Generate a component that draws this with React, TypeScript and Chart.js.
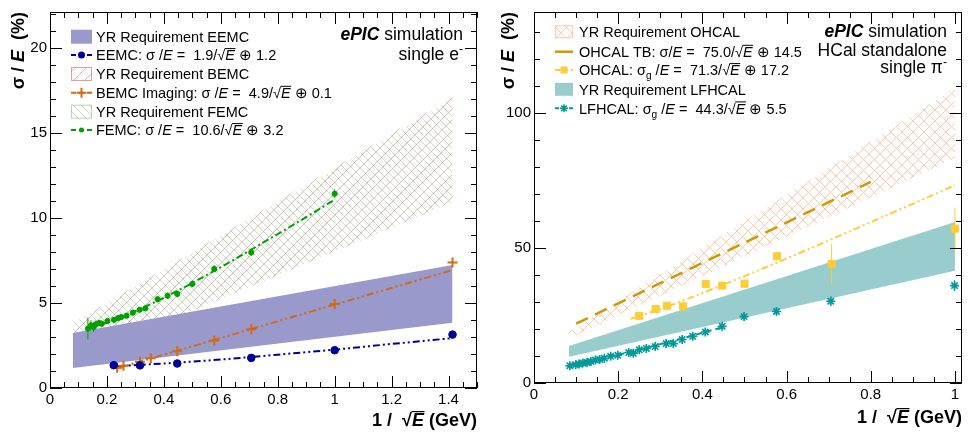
import React, { useEffect, useRef } from 'react';
import { Chart, registerables } from 'chart.js';
Chart.register(...registerables);

const FONT = '"Liberation Sans", Arial, Helvetica, sans-serif';

// ---------------- Left panel: single e- ----------------
const leftXTicks = [0, 0.2, 0.4, 0.6, 0.8, 1, 1.2, 1.4];
const leftYTicks = [0, 5, 10, 15, 20];

const eemcBandX = [0.08, 1.414];
const eemcBandLow = [1.17, 3.84];
const eemcBandHigh = [3.23, 7.23];

const bemcBandX = [0.08, 1.414];
const bemcBandLow = [1.6, 10.9];
const bemcBandHigh = [3.8, 17.1];

const femcBandX = [0.08, 1.414];
const femcBandLow = [1.6, 10.9];
const femcBandHigh = [3.8, 17.0];

const eemcX = [0.224, 0.316, 0.447, 0.707, 1.0, 1.414];
const eemcY = [1.34, 1.33, 1.44, 1.77, 2.22, 3.14];
const eemcFitX = [0.224, 0.4, 0.6, 0.8, 1.0, 1.2, 1.414];
const eemcFitY = [1.27, 1.44, 1.67, 1.96, 2.25, 2.59, 2.93];

const bemcX = [0.236, 0.258, 0.316, 0.354, 0.447, 0.577, 0.707, 1.0, 1.414];
const bemcY = [1.19, 1.31, 1.54, 1.75, 2.16, 2.79, 3.45, 4.93, 7.37];
const bemcFitX = [0.236, 0.4, 0.6, 0.8, 1.0, 1.2, 1.414];
const bemcFitY = [1.16, 1.96, 2.94, 3.92, 4.9, 5.88, 6.93];

const femcX = [0.133, 0.144, 0.153, 0.161, 0.173, 0.182, 0.202, 0.225, 0.239, 0.25, 0.269, 0.291, 0.315, 0.335, 0.378, 0.413, 0.447, 0.5, 0.577, 0.707, 1.0];
const femcY = [3.49, 3.68, 3.58, 3.74, 3.82, 3.78, 3.94, 4.01, 4.11, 4.17, 4.25, 4.43, 4.6, 4.68, 5.22, 5.42, 5.53, 6.12, 7.0, 7.97, 11.42];
const femcErr = [0.64, 0.3, 0.28, 0.22, 0.18, 0.18, 0.15, 0.15, 0.15, 0.15, 0.15, 0.15, 0.15, 0.15, 0.18, 0.18, 0.2, 0.2, 0.2, 0.22, 0.25];
const femcFitX = [0.133, 0.2, 0.3, 0.4, 0.5, 0.6, 0.7, 0.8, 0.9, 1.0];
const femcFitY = [3.49, 3.85, 4.51, 5.3, 6.17, 7.1, 8.07, 9.05, 10.04, 11.07];

// ---------------- Right panel: single pi- ----------------
const rightXTicks = [0, 0.2, 0.4, 0.6, 0.8, 1];
const rightYTicks = [0, 50, 100];

const ohcalBandX = [0.083, 1.0];
const ohcalBandLow = [16.5, 83.4];
const ohcalBandHigh = [19.0, 109.2];

const ohcalTbX = [0.1, 0.8];
const ohcalTbY = [22.0, 74.5];

const ohcalX = [0.25, 0.289, 0.316, 0.354, 0.408, 0.447, 0.5, 0.577, 0.707, 1.0];
const ohcalY = [24.9, 27.4, 28.6, 28.4, 36.7, 36.1, 36.8, 47.0, 44.1, 57.2];
const ohcalErr = [0.8, 0.8, 0.8, 0.8, 1.0, 1.0, 1.0, 1.5, 7.5, 7.8];
const ohcalFitX = [0.23, 0.3, 0.4, 0.5, 0.6, 0.7, 0.8, 0.9, 1.0];
const ohcalFitY = [23.8, 27.3, 33.3, 39.6, 46.1, 52.8, 59.6, 66.4, 73.3];

const lfhcalBandX = [0.083, 1.0];
const lfhcalBandLow = [9.7, 41.6];
const lfhcalBandHigh = [13.7, 59.7];

const lfhcalX = [0.085, 0.099, 0.107, 0.116, 0.126, 0.135, 0.146, 0.156, 0.167, 0.182, 0.199, 0.225, 0.236, 0.25, 0.267, 0.288, 0.314, 0.331, 0.352, 0.377, 0.407, 0.447, 0.499, 0.576, 0.705, 0.999];
const lfhcalY = [6.4, 6.8, 7.0, 7.4, 7.6, 8.0, 8.5, 8.7, 9.2, 9.9, 10.3, 11.3, 11.0, 12.3, 12.8, 13.5, 14.6, 14.6, 16.1, 17.3, 18.9, 21.0, 24.6, 26.5, 30.3, 36.1];
const lfhcalErr = [1.5, 1.5, 1.5, 1.4, 1.4, 1.4, 1.4, 1.4, 1.4, 1.4, 1.4, 1.4, 1.4, 1.4, 1.4, 1.4, 1.4, 1.4, 1.4, 1.4, 1.5, 1.5, 1.6, 1.6, 1.8, 2.0];
const lfhcalFitX = [0.085, 0.15, 0.2, 0.25, 0.3, 0.35, 0.4, 0.447];
const lfhcalFitY = [6.6, 8.6, 10.4, 12.4, 14.4, 16.4, 18.6, 20.6];

// ---------------- colours ----------------
const C_EEMC = '#000099';
const C_EEMC_BAND = 'rgb(153,153,204)';
const C_BEMC = 'rgb(210,105,20)';
const C_BEMC_HATCH = 'rgba(210,120,120,0.7)';
const C_FEMC = 'rgb(0,160,0)';
const C_FEMC_HATCH = 'rgba(120,195,120,0.6)';
const C_OHCAL_HATCH = 'rgba(255,195,160,0.9)';
const C_OHCAL_TB = 'rgb(204,153,0)';
const C_OHCAL = 'rgb(255,204,51)';
const C_LFHCAL = 'rgb(0,153,153)';
const C_LFHCAL_BAND = 'rgb(153,204,204)';

type Seg = { t: string; f?: string; sub?: boolean; sup?: boolean; over?: boolean };

function pts(xs: number[], ys: number[]) {
  return xs.map((x, i) => ({ x, y: ys[i] }));
}

function makeHatch(color: string, dirs: string[], s: number, lw: number) {
  const c = document.createElement('canvas');
  c.width = s;
  c.height = s;
  const g = c.getContext('2d')!;
  g.strokeStyle = color;
  g.lineWidth = lw;
  g.beginPath();
  for (const d of dirs) {
    for (const o of [-s, 0, s]) {
      if (d === '/') {
        g.moveTo(o, s);
        g.lineTo(o + s, 0);
      } else {
        g.moveTo(o, 0);
        g.lineTo(o + s, s);
      }
    }
  }
  g.stroke();
  return g.createPattern(c, 'repeat')!;
}

function segFont(s: Seg, size: number, bold: boolean) {
  const sz = s.sub || s.sup ? size * 0.7 : size;
  const it = s.f && s.f.includes('i') ? 'italic ' : '';
  const b = bold || (s.f && s.f.includes('b')) ? 'bold ' : '';
  return `${it}${b}${sz}px ${FONT}`;
}

function drawRich(ctx: CanvasRenderingContext2D, segs: Seg[], x: number, y: number, size: number, align: string, bold = false) {
  ctx.textAlign = 'left';
  ctx.textBaseline = 'alphabetic';
  const parts = segs.map((s) => {
    const font = segFont(s, size, bold);
    ctx.font = font;
    return { s, font, w: ctx.measureText(s.t).width };
  });
  const total = parts.reduce((a, p) => a + p.w, 0);
  let cx = align === 'right' ? x - total : align === 'center' ? x - total / 2 : x;
  for (const p of parts) {
    ctx.font = p.font;
    const dy = p.s.sub ? size * 0.28 : p.s.sup ? -size * 0.42 : 0;
    ctx.fillText(p.s.t, cx, y + dy);
    if (p.s.over) {
      ctx.save();
      ctx.strokeStyle = ctx.fillStyle as string;
      ctx.lineWidth = Math.max(1, size / 15);
      ctx.beginPath();
      ctx.moveTo(cx - 0.5, y - size * 0.8);
      ctx.lineTo(cx + p.w + 0.5, y - size * 0.8);
      ctx.stroke();
      ctx.restore();
    }
    cx += p.w;
  }
}

const sqrtE: Seg[] = [{ t: '√' }, { t: 'E', f: 'i', over: true }];

function drawMarker(ctx: CanvasRenderingContext2D, kind: string, x: number, y: number, color: string) {
  ctx.save();
  ctx.fillStyle = color;
  ctx.strokeStyle = color;
  ctx.setLineDash([]);
  if (kind === 'circle' || kind === 'dot') {
    ctx.beginPath();
    ctx.arc(x, y, kind === 'circle' ? 3.5 : 2.5, 0, Math.PI * 2);
    ctx.fill();
  } else if (kind === 'cross') {
    ctx.lineWidth = 2;
    ctx.beginPath();
    ctx.moveTo(x - 5, y);
    ctx.lineTo(x + 5, y);
    ctx.moveTo(x, y - 5);
    ctx.lineTo(x, y + 5);
    ctx.stroke();
  } else if (kind === 'square') {
    ctx.fillRect(x - 3.5, y - 3.5, 7, 7);
  } else if (kind === 'star') {
    ctx.lineWidth = 1.5;
    ctx.beginPath();
    for (let k = 0; k < 4; k++) {
      const a = (k * Math.PI) / 4;
      ctx.moveTo(x - 4 * Math.cos(a), y - 4 * Math.sin(a));
      ctx.lineTo(x + 4 * Math.cos(a), y + 4 * Math.sin(a));
    }
    ctx.stroke();
  }
  ctx.restore();
}

interface LegendEntry {
  kind: 'fill' | 'line';
  fill?: string | CanvasPattern;
  border?: string;
  color?: string;
  dash?: number[];
  lw?: number;
  marker?: string;
  segs: Seg[];
}

interface PanelCfg {
  xMax: number;
  yMax: number;
  xTicks: number[];
  yTicks: number[];
  xMinor: number;
  yMinor: number;
  xMajor: number;
  yMajor: number;
  bottomPad: number;
  rightPad: number;
  yTitleX: number;
  xTitleY: number;
  headerX: number;
  header: { segs: Seg[]; y: number }[];
  legend: LegendEntry[];
  legendRows: number[];
  legX0: number;
  legX1: number;
  legH: number;
  legTextX: number;
}

function band(xs: number[], lo: number[], hi: number[], fill: any, order: number) {
  return [
    { data: pts(xs, lo), borderColor: 'rgba(0,0,0,0)', borderWidth: 0, pointRadius: 0, fill: false, order },
    { data: pts(xs, hi), borderColor: 'rgba(0,0,0,0)', borderWidth: 0, pointRadius: 0, fill: '-1', backgroundColor: fill, order },
  ];
}

function fitLine(xs: number[], ys: number[], color: string, dash: number[], lw: number) {
  return { data: pts(xs, ys), borderColor: color, borderWidth: lw, borderDash: dash, pointRadius: 0, fill: false, tension: 0, order: 3 };
}

function points(xs: number[], ys: number[], color: string, style: string, r: number, bw: number, err?: number[]) {
  return {
    data: pts(xs, ys),
    showLine: false,
    pointStyle: style,
    pointRadius: r,
    pointBackgroundColor: color,
    pointBorderColor: color,
    pointBorderWidth: bw,
    borderColor: color,
    backgroundColor: color,
    fill: false,
    order: 1,
    errY: err,
  };
}

function decorPlugin(cfg: PanelCfg) {
  return {
    id: 'decor',
    afterDatasetsDraw(chart: any) {
      const ctx: CanvasRenderingContext2D = chart.ctx;
      const ys = chart.scales.y;
      chart.data.datasets.forEach((ds: any, i: number) => {
        if (!ds.errY) return;
        const meta = chart.getDatasetMeta(i);
        ctx.save();
        ctx.strokeStyle = ds.borderColor;
        ctx.lineWidth = 1;
        ctx.beginPath();
        meta.data.forEach((el: any, j: number) => {
          const d = ds.data[j];
          const e = ds.errY[j];
          ctx.moveTo(el.x, ys.getPixelForValue(d.y - e));
          ctx.lineTo(el.x, ys.getPixelForValue(d.y + e));
        });
        ctx.stroke();
        ctx.restore();
      });
    },
    afterDraw(chart: any) {
      const ctx: CanvasRenderingContext2D = chart.ctx;
      const a = chart.chartArea;
      const xs = chart.scales.x;
      const ys = chart.scales.y;
      ctx.save();
      // frame
      ctx.strokeStyle = '#000';
      ctx.lineWidth = 1;
      ctx.strokeRect(Math.round(a.left) + 0.5, Math.round(a.top) + 0.5, Math.round(a.right - a.left) - 1, Math.round(a.bottom - a.top) - 1);
      // ticks
      ctx.beginPath();
      for (let k = 0; k * cfg.xMinor <= cfg.xMax + 1e-9; k++) {
        const v = k * cfg.xMinor;
        const major = Math.abs(v / cfg.xMajor - Math.round(v / cfg.xMajor)) < 1e-6;
        const L = major ? 12 : 6;
        const px = Math.round(xs.getPixelForValue(v)) + 0.5;
        ctx.moveTo(px, a.bottom);
        ctx.lineTo(px, a.bottom - L);
        ctx.moveTo(px, a.top);
        ctx.lineTo(px, a.top + L);
      }
      for (let k = 0; k * cfg.yMinor <= cfg.yMax + 1e-9; k++) {
        const v = k * cfg.yMinor;
        const major = Math.abs(v / cfg.yMajor - Math.round(v / cfg.yMajor)) < 1e-6;
        const L = major ? 12 : 6;
        const py = Math.round(ys.getPixelForValue(v)) + 0.5;
        ctx.moveTo(a.left, py);
        ctx.lineTo(a.left + L, py);
        ctx.moveTo(a.right, py);
        ctx.lineTo(a.right - L, py);
      }
      ctx.stroke();

      ctx.fillStyle = '#000';
      // axis titles
      drawRich(ctx, [{ t: '1 /  ' }, ...sqrtE, { t: ' (GeV)' }], a.right, cfg.xTitleY, 18, 'right', true);
      ctx.save();
      ctx.translate(cfg.yTitleX, a.top);
      ctx.rotate(-Math.PI / 2);
      drawRich(ctx, [{ t: 'σ / ' }, { t: 'E', f: 'i' }, { t: '  (%)' }], 0, 0, 18, 'right', true);
      ctx.restore();

      // header
      for (const h of cfg.header) drawRich(ctx, h.segs, cfg.headerX, h.y, 17.5, 'right');

      // legend
      cfg.legend.forEach((e, i) => {
        const yc = cfg.legendRows[i];
        if (e.kind === 'fill') {
          ctx.save();
          ctx.fillStyle = e.fill as any;
          ctx.fillRect(cfg.legX0, yc - cfg.legH / 2, cfg.legX1 - cfg.legX0, cfg.legH);
          if (e.border) {
            ctx.strokeStyle = e.border;
            ctx.lineWidth = 1;
            ctx.strokeRect(cfg.legX0 + 0.5, yc - cfg.legH / 2 + 0.5, cfg.legX1 - cfg.legX0 - 1, cfg.legH - 1);
          }
          ctx.restore();
        } else {
          ctx.save();
          ctx.strokeStyle = e.color!;
          ctx.lineWidth = e.lw || 2;
          ctx.setLineDash(e.dash || []);
          ctx.beginPath();
          ctx.moveTo(cfg.legX0, yc);
          ctx.lineTo(cfg.legX1, yc);
          ctx.stroke();
          ctx.restore();
          if (e.marker) drawMarker(ctx, e.marker, (cfg.legX0 + cfg.legX1) / 2, yc, e.color!);
        }
        ctx.fillStyle = '#000';
        drawRich(ctx, e.segs, cfg.legTextX, yc + 5.2, 14.5, 'left');
      });
      ctx.restore();
    },
  };
}

function buildChart(canvas: HTMLCanvasElement, cfg: PanelCfg, datasets: any[]) {
  const tickCb = (v: any) => String(+Number(v).toFixed(2));
  return new Chart(canvas, {
    type: 'line',
    data: { datasets },
    options: {
      animation: false,
      responsive: false,
      events: [],
      layout: { padding: { top: 10, right: cfg.rightPad, left: 0, bottom: 0 } },
      plugins: { legend: { display: false }, tooltip: { enabled: false } },
      scales: {
        x: {
          type: 'linear',
          min: 0,
          max: cfg.xMax,
          grid: { display: false, drawTicks: false },
          border: { display: false },
          ticks: { autoSkip: false, maxRotation: 0, padding: 3, color: '#000', font: { family: FONT, size: 15 }, callback: tickCb },
          afterBuildTicks: (s: any) => {
            s.ticks = cfg.xTicks.map((value) => ({ value }));
          },
          afterFit: (s: any) => {
            s.height = cfg.bottomPad;
          },
        },
        y: {
          type: 'linear',
          min: 0,
          max: cfg.yMax,
          grid: { display: false, drawTicks: false },
          border: { display: false },
          ticks: { autoSkip: false, padding: 3, color: '#000', font: { family: FONT, size: 15 }, callback: tickCb },
          afterBuildTicks: (s: any) => {
            s.ticks = cfg.yTicks.map((value) => ({ value }));
          },
          afterFit: (s: any) => {
            s.width = 50;
          },
        },
      },
    } as any,
    plugins: [decorPlugin(cfg)],
  });
}

export default function App() {
  const leftRef = useRef<HTMLCanvasElement>(null);
  const rightRef = useRef<HTMLCanvasElement>(null);

  useEffect(() => {
    const bemcHatch = makeHatch(C_BEMC_HATCH, ['/'], 11, 0.8);
    const femcHatch = makeHatch(C_FEMC_HATCH, ['\\'], 8, 0.8);
    const ohcalHatch = makeHatch(C_OHCAL_HATCH, ['/', '\\'], 11, 1);

    const dashDotDot = [7, 3, 2, 3, 2, 3];
    const dashDot = [7, 3, 2, 3];

    const leftCfg: PanelCfg = {
      xMax: 1.5,
      yMax: 22.1,
      xTicks: leftXTicks,
      yTicks: leftYTicks,
      xMinor: 0.05,
      yMinor: 1,
      xMajor: 0.2,
      yMajor: 5,
      bottomPad: 47,
      rightPad: 2,
      yTitleX: 24,
      xTitleY: 426,
      headerX: 463,
      header: [
        { segs: [{ t: 'ePIC', f: 'bi' }, { t: ' simulation' }], y: 40 },
        { segs: [{ t: 'single e' }, { t: '-', sup: true }], y: 60 },
      ],
      legendRows: [36.7, 55, 74, 92.7, 111.7, 130],
      legX0: 71,
      legX1: 92,
      legH: 14,
      legTextX: 96,
      legend: [
        { kind: 'fill', fill: C_EEMC_BAND, segs: [{ t: 'YR Requirement EEMC' }] },
        { kind: 'line', color: C_EEMC, dash: [5, 3], marker: 'circle', segs: [{ t: 'EEMC: σ /' }, { t: 'E', f: 'i' }, { t: ' =  1.9/' }, ...sqrtE, { t: ' ⊕ 1.2' }] },
        { kind: 'fill', fill: bemcHatch, border: C_BEMC_HATCH, segs: [{ t: 'YR Requirement BEMC' }] },
        { kind: 'line', color: C_BEMC, dash: [5, 3], marker: 'cross', segs: [{ t: 'BEMC Imaging: σ /' }, { t: 'E', f: 'i' }, { t: ' =  4.9/' }, ...sqrtE, { t: ' ⊕ 0.1' }] },
        { kind: 'fill', fill: femcHatch, border: C_FEMC_HATCH, segs: [{ t: 'YR Requirement FEMC' }] },
        { kind: 'line', color: C_FEMC, dash: [5, 3], marker: 'dot', segs: [{ t: 'FEMC: σ /' }, { t: 'E', f: 'i' }, { t: ' =  10.6/' }, ...sqrtE, { t: ' ⊕ 3.2' }] },
      ],
    };

    const leftDatasets = [
      ...band(bemcBandX, bemcBandLow, bemcBandHigh, bemcHatch, 10),
      ...band(femcBandX, femcBandLow, femcBandHigh, femcHatch, 10),
      ...band(eemcBandX, eemcBandLow, eemcBandHigh, C_EEMC_BAND, 8),
      fitLine(eemcFitX, eemcFitY, C_EEMC, dashDotDot, 2),
      fitLine(bemcFitX, bemcFitY, C_BEMC, dashDotDot, 2),
      fitLine(femcFitX, femcFitY, C_FEMC, dashDot, 2),
      points(eemcX, eemcY, C_EEMC, 'circle', 3.8, 1),
      points(bemcX, bemcY, C_BEMC, 'cross', 5, 2),
      points(femcX, femcY, C_FEMC, 'circle', 2.6, 1, femcErr),
    ];

    const rightCfg: PanelCfg = {
      xMax: 1.0165,
      yMax: 137.5,
      xTicks: rightXTicks,
      yTicks: rightYTicks,
      xMinor: 0.05,
      yMinor: 10,
      xMajor: 0.2,
      yMajor: 50,
      bottomPad: 52,
      rightPad: 3,
      yTitleX: 30,
      xTitleY: 423,
      headerX: 463,
      header: [
        { segs: [{ t: 'ePIC', f: 'bi' }, { t: ' simulation' }], y: 37 },
        { segs: [{ t: 'HCal standalone' }], y: 55.5 },
        { segs: [{ t: 'single π' }, { t: '-', sup: true }], y: 73 },
      ],
      legendRows: [31.7, 51.7, 70, 89.3, 108.3],
      legX0: 71,
      legX1: 89,
      legH: 13,
      legTextX: 95,
      legend: [
        { kind: 'fill', fill: ohcalHatch, border: C_OHCAL_HATCH, segs: [{ t: 'YR Requirement OHCAL' }] },
        { kind: 'line', color: C_OHCAL_TB, lw: 2.5, segs: [{ t: 'OHCAL TB: σ/' }, { t: 'E', f: 'i' }, { t: ' =  75.0/' }, ...sqrtE, { t: ' ⊕ 14.5' }] },
        { kind: 'line', color: C_OHCAL, dash: [5, 3], marker: 'square', segs: [{ t: 'OHCAL: σ' }, { t: 'g', sub: true }, { t: ' /' }, { t: 'E', f: 'i' }, { t: ' =  71.3/' }, ...sqrtE, { t: ' ⊕ 17.2' }] },
        { kind: 'fill', fill: C_LFHCAL_BAND, segs: [{ t: 'YR Requirement LFHCAL' }] },
        { kind: 'line', color: C_LFHCAL, dash: [4, 3], marker: 'star', segs: [{ t: 'LFHCAL: σ' }, { t: 'g', sub: true }, { t: ' /' }, { t: 'E', f: 'i' }, { t: ' =  44.3/' }, ...sqrtE, { t: ' ⊕ 5.5' }] },
      ],
    };

    const rightDatasets = [
      ...band(ohcalBandX, ohcalBandLow, ohcalBandHigh, ohcalHatch, 10),
      ...band(lfhcalBandX, lfhcalBandLow, lfhcalBandHigh, C_LFHCAL_BAND, 9),
      fitLine(ohcalTbX, ohcalTbY, C_OHCAL_TB, [13, 8], 2.5),
      fitLine(ohcalFitX, ohcalFitY, C_OHCAL, dashDotDot, 2),
      fitLine(lfhcalFitX, lfhcalFitY, C_LFHCAL, [6, 4], 2),
      points(ohcalX, ohcalY, C_OHCAL, 'rect', 5, 1, ohcalErr),
      points(lfhcalX, lfhcalY, C_LFHCAL, 'star', 4.5, 1.6, lfhcalErr),
    ];

    const c1 = buildChart(leftRef.current!, leftCfg, leftDatasets);
    const c2 = buildChart(rightRef.current!, rightCfg, rightDatasets);
    return () => {
      c1.destroy();
      c2.destroy();
    };
  }, []);

  return (
    <div style={{ position: 'absolute', left: 0, top: 0, width: 968, height: 435, background: '#fff' }}>
      <canvas ref={leftRef} width={484} height={435} style={{ position: 'absolute', left: 0, top: 0, width: 484, height: 435 }} />
      <canvas ref={rightRef} width={484} height={435} style={{ position: 'absolute', left: 484, top: 0, width: 484, height: 435 }} />
    </div>
  );
}
